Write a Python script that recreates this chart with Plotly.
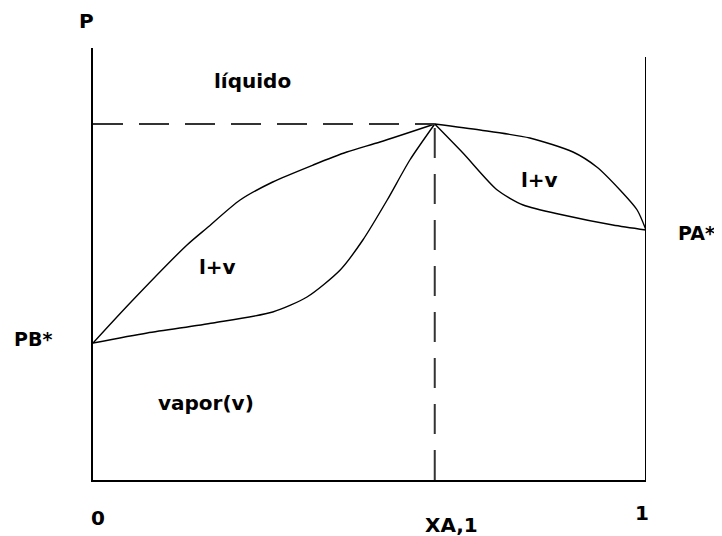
import plotly.graph_objects as go

# Composition (x_A) and pressure (arbitrary units)
left_upper_x = [0.0, 0.067, 0.170, 0.206, 0.266, 0.325, 0.398, 0.459, 0.519, 0.618]
left_upper_p = [1.37, 1.77, 2.35, 2.52, 2.80, 2.98, 3.15, 3.28, 3.38, 3.56]
left_lower_x = [0.0, 0.098, 0.217, 0.325, 0.387, 0.447, 0.488, 0.532, 0.573, 0.618]
left_lower_p = [1.37, 1.47, 1.57, 1.68, 1.83, 2.10, 2.40, 2.80, 3.20, 3.56]
right_upper_x = [0.618, 0.700, 0.790, 0.868, 0.911, 0.953, 0.984, 1.0]
right_upper_p = [3.56, 3.50, 3.42, 3.28, 3.13, 2.90, 2.70, 2.50]
right_lower_x = [0.618, 0.669, 0.731, 0.778, 0.850, 0.940, 1.0]
right_lower_p = [3.56, 3.27, 2.90, 2.75, 2.65, 2.55, 2.50]

P_MAX = 4.32
azeo_x = left_upper_x[-1]
azeo_p = left_upper_p[-1]
right_axis_top = 4.23

# text, x, y, anchor, size
labels = [
    ("P", -0.011, 4.59, "center", 20),
    ("líquido", 0.288, 3.99, "center", 20),
    ("vapor(v)", 0.204, 0.77, "center", 20),
    ("l+v", 0.226, 2.13, "center", 20),
    ("l+v", 0.808, 3.00, "center", 20),
    ("PB*", -0.145, 1.41, "left", 19),
    ("PA*", 1.056, 2.47, "left", 19),
    ("0", 0.009, -0.38, "center", 20),
    ("1", 0.993, -0.33, "center", 20),
    ("XA,1", 0.649, -0.45, "center", 20),
]

fig = go.Figure()
for xs, ps in [(left_upper_x, left_upper_p), (left_lower_x, left_lower_p),
               (right_upper_x, right_upper_p), (right_lower_x, right_lower_p)]:
    fig.add_trace(go.Scatter(x=xs, y=ps, mode="lines",
                             line=dict(color="black", width=1.4, shape="spline", smoothing=0.7),
                             hoverinfo="skip", showlegend=False, cliponaxis=False))

dash = "30px,16px"
fig.add_shape(type="line", x0=0, x1=azeo_x, y0=azeo_p, y1=azeo_p, xref="x", yref="y",
              line=dict(color="#333", width=2, dash=dash))
fig.add_shape(type="line", x0=azeo_x, x1=azeo_x, y0=0, y1=azeo_p, xref="x", yref="y",
              line=dict(color="#333", width=2, dash=dash))
fig.add_shape(type="line", x0=1, x1=1, y0=0, y1=right_axis_top, xref="x", yref="y",
              line=dict(color="black", width=2))

for text, x, y, anchor, size in labels:
    fig.add_annotation(x=x, y=y / P_MAX, xref="paper", yref="paper", text=text, showarrow=False,
                       font=dict(family="DejaVu Sans", size=size, color="black", weight="bold"),
                       xanchor=anchor, yanchor="middle", borderpad=0)

fig.update_layout(
    width=714, height=528,
    margin=dict(l=85, r=76, t=40, b=56),
    paper_bgcolor="white", plot_bgcolor="white",
    xaxis=dict(range=[0, 1], showline=True, linecolor="black", linewidth=2,
               showgrid=False, zeroline=False, showticklabels=False, ticks=""),
    yaxis=dict(range=[0, P_MAX], showline=True, linecolor="black", linewidth=2,
               showgrid=False, zeroline=False, showticklabels=False, ticks=""),
    showlegend=False,
)

fig.write_html("out.html")
